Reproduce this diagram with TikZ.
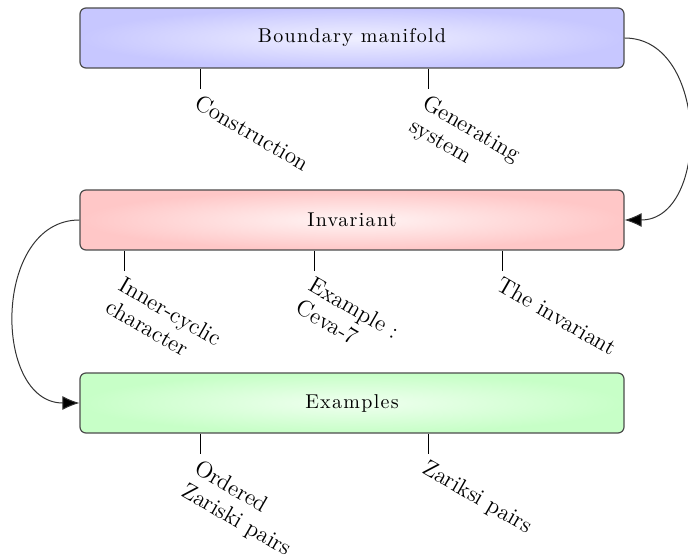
\documentclass[tikz,border=0pt]{standalone}
\usepackage{fontspec}
\newfontfamily\spacedrm{Latin Modern Roman}[LetterSpace=6.5]
\usetikzlibrary{arrows.meta}
\begin{document}
\begin{tikzpicture}[x=0.5pt,y=-0.5pt,
  stage/.style={draw=black!70, line width=0.6pt, rounded corners=3pt,
    minimum width=272pt, minimum height=30pt, inner sep=0pt,
    font=\spacedrm\fontsize{10}{12}\selectfont},
  bluebox/.style={stage, inner color=blue!6, outer color=blue!22},
  redbox/.style={stage, inner color=red!4, outer color=red!22},
  greenbox/.style={stage, inner color=green!6, outer color=green!22},
  tick/.style={draw=black, line width=0.5pt},
  lbl/.style={anchor=north west, rotate=-30, align=left, inner sep=1.5pt,
    font=\fontsize{11.5}{13}\selectfont},
  link/.style={draw=black!80, line width=0.5pt,
    -{Latex[length=8.5pt,width=7pt,fill=black]}}]
\useasboundingbox (0,0) rectangle (688,560);

% main stages
\node[bluebox]  (bm)  at (352,38)  {Boundary manifold};
\node[redbox]   (inv) at (352,220) {Invariant};
\node[greenbox] (ex)  at (352,403) {Examples};

% flow between stages
\draw[link] (bm.east) to[out=0,in=0,looseness=1.2] (inv.east);
\draw[link] (inv.west) to[out=180,in=180,looseness=1.22] (ex.west);

% sub-topics of the boundary manifold
\coordinate (c1) at (200,89);
\coordinate (c2) at (428,89);
\draw[tick] (bm.south -| c1) -- (c1);
\draw[tick] (bm.south -| c2) -- (c2);
\node[lbl] (l1) at (c1) {Construction};
\node[lbl] (l2) at (c2) {Generating\\system};

% sub-topics of the invariant
\coordinate (c3) at (124,271);
\coordinate (c4) at (314,271);
\coordinate (c5) at (502,271);
\draw[tick] (inv.south -| c3) -- (c3);
\draw[tick] (inv.south -| c4) -- (c4);
\draw[tick] (inv.south -| c5) -- (c5);
\node[lbl] (l3) at (c3) {Inner-cyclic\\character};
\node[lbl] (l4) at (c4) {Example :\\Ceva-7};
\node[lbl] (l5) at (c5) {The invariant};

% sub-topics of the examples
\coordinate (c6) at (200,454);
\coordinate (c7) at (428,454);
\draw[tick] (ex.south -| c6) -- (c6);
\draw[tick] (ex.south -| c7) -- (c7);
\node[lbl] (l6) at (c6) {Ordered\\Zariski pairs};
\node[lbl] (l7) at (c7) {Zariksi pairs};
\end{tikzpicture}
\end{document}
